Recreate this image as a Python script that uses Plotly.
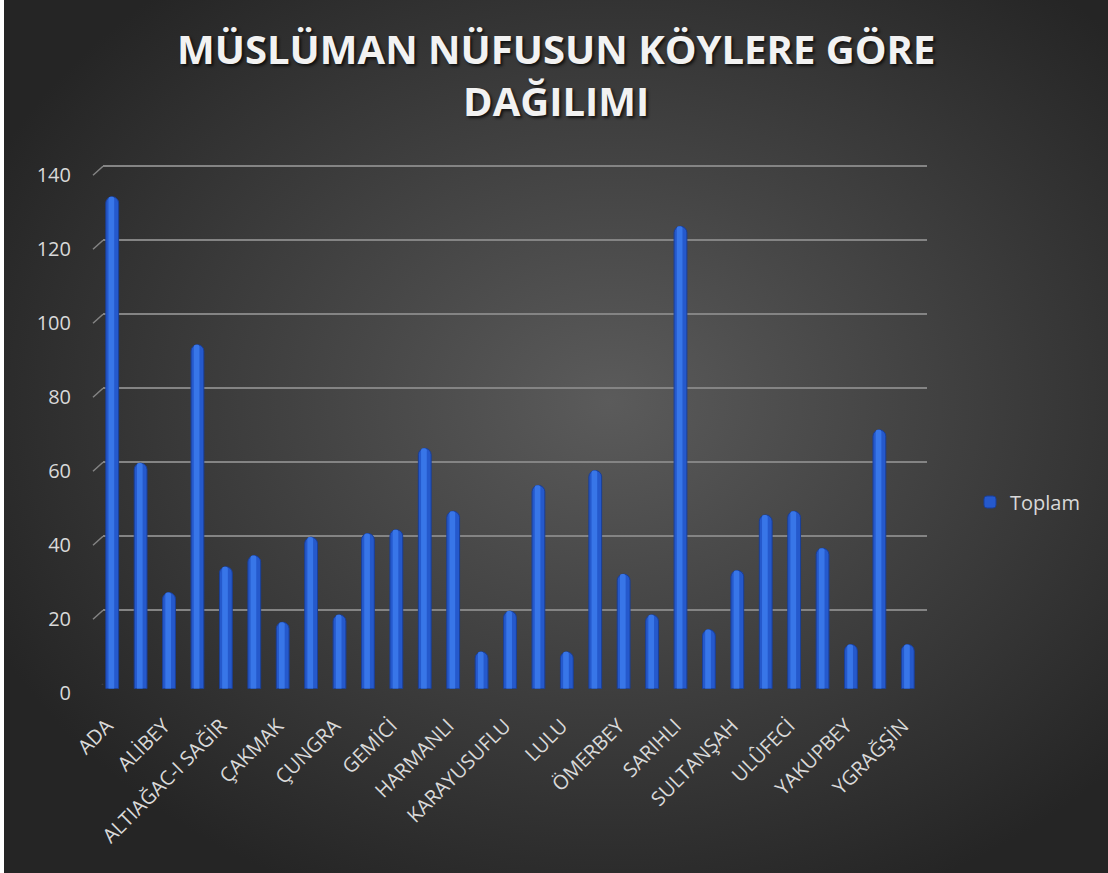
import base64
import plotly.graph_objects as go

# villages (only every other one is labelled on the axis)
villages = [
    "ADA", "AKSU", "ALİBEY", "ALTIAĞAC-I KEBİR", "ALTIAĞAC-I SAĞİR", "CAFERLİ",
    "ÇAKMAK", "ÇAMLI", "ÇUNGRA", "DEMİRCİ", "GEMİCİ", "GÜNEY", "HARMANLI",
    "KARACA", "KARAYUSUFLU", "KIZILCA", "LULU", "OBA", "ÖMERBEY", "SAKARLI",
    "SARIHLI", "SOĞUKSU", "SULTANŞAH", "TEKKE", "ULÛFECİ", "ÜÇPINAR",
    "YAKUPBEY", "YENİCE", "YGRAĞŞİN",
]
toplam = [133, 61, 26, 93, 33, 36, 18, 41, 20, 42, 43, 65, 48, 10, 21, 55, 10,
          59, 31, 20, 125, 16, 32, 47, 48, 38, 12, 70, 12]
shown_labels = villages[::2]
y_ticks = [0, 20, 40, 60, 80, 100, 120, 140]

W, H = 1108, 873
PX_PER_UNIT = 3.7  # 20 units = 74 px
Y_MAX = 141        # a little headroom so the 140 grid line is drawn


def px_x(x):
    return x / W


def px_y(y):
    return 1 - y / H


def domains(dx, dy):
    # back wall: x 103..927, y 0 at 684.3 (scale 3.7 px per unit)
    xd = [px_x(103 + dx), px_x(927 + dx)]
    yd = [px_y(684.3 + dy), px_y(684.3 - Y_MAX * PX_PER_UNIT + dy)]
    return xd, yd


# radial background like the office chart style
svg = (
    "<svg xmlns='http://www.w3.org/2000/svg' width='1108' height='873' "
    "preserveAspectRatio='none'>"
    "<defs><radialGradient id='g' cx='55%' cy='46%' r='62%'>"
    "<stop offset='0' stop-color='#5b5b5b'/>"
    "<stop offset='1' stop-color='#252525'/>"
    "</radialGradient></defs>"
    "<rect width='100%' height='100%' fill='url(#g)'/></svg>"
)
bg = "data:image/svg+xml;base64," + base64.b64encode(svg.encode()).decode()

fig = go.Figure()

# invisible trace on the back-wall axes (grid lines)
fig.add_trace(go.Scatter(x=villages, y=toplam, xaxis="x", yaxis="y",
                         mode="markers", marker_opacity=0, showlegend=False,
                         hoverinfo="skip"))

# cylinders
fig.add_trace(go.Bar(
    x=villages, y=toplam, xaxis="x2", yaxis="y2", name="Toplam",
    width=0.45,
    marker=dict(color="#2559cc", line=dict(color="#1a3f98", width=1),
                cornerradius="50%"),
))
# highlight stripe
fig.add_trace(go.Bar(
    x=villages, y=toplam, xaxis="x2", yaxis="y2", showlegend=False,
    width=0.2, offset=-0.13, hoverinfo="skip",
    marker=dict(color="#3876e8", line=dict(width=0), cornerradius="50%"),
))

# invisible trace on front axes (tick labels)
fig.add_trace(go.Scatter(x=villages, y=toplam, xaxis="x3", yaxis="y3",
                         mode="markers", marker_opacity=0, showlegend=False,
                         hoverinfo="skip"))

yfont = dict(family="Open Sans", size=20, color="#d9d9d9")
xfont = dict(family="Open Sans", size=20, color="#d9d9d9")
xr = [-0.5, len(villages) - 0.5]
yr = [0, Y_MAX]

xd, yd = domains(0, 0)
xd2, yd2 = domains(-5, 4.5)
xd3, yd3 = domains(-10, 9)

shapes = [
    # thin white strip on the left edge
    dict(type="rect", xref="paper", yref="paper", x0=0, x1=px_x(4),
         y0=0, y1=1, fillcolor="white", line=dict(width=0), layer="above"),
]
# little diagonal ticks joining the front labels to the back grid
for v in y_ticks:
    shapes.append(dict(type="line", xref="paper", yref="y",
                       x0=px_x(93), x1=px_x(103),
                       y0=v - 9 / PX_PER_UNIT, y1=v,
                       line=dict(color="#848484", width=1.5)))

fig.update_layout(
    template="none",
    width=W, height=H,
    margin=dict(l=0, r=0, t=0, b=0, pad=0),
    paper_bgcolor="#2b2b2b",
    plot_bgcolor="rgba(0,0,0,0)",
    barmode="overlay",
    images=[dict(source=bg, xref="paper", yref="paper", x=0, y=1,
                 sizex=1, sizey=1, sizing="stretch", layer="below")],
    annotations=[dict(
        text="MÜSLÜMAN NÜFUSUN KÖYLERE GÖRE<br>DAĞILIMI",
        xref="paper", yref="paper", x=px_x(556), y=px_y(74),
        xanchor="center", yanchor="middle", showarrow=False,
        font=dict(family="Open Sans", size=40, color="#f2f2f2",
                  weight="bold", shadow="2px 2px 3px rgba(0,0,0,0.7)"),
    )],
    xaxis=dict(domain=xd, range=xr, anchor="y", showticklabels=False,
               showgrid=False, zeroline=False, showline=False,
               automargin=False, fixedrange=True),
    yaxis=dict(domain=yd, range=yr, anchor="x", tickvals=y_ticks,
               showticklabels=False, showgrid=True, gridcolor="#848484",
               gridwidth=1.5, zeroline=False, showline=False, ticks="",
               automargin=False, fixedrange=True),
    xaxis2=dict(domain=xd2, range=xr, anchor="y2", visible=False,
                automargin=False, fixedrange=True),
    yaxis2=dict(domain=yd2, range=yr, anchor="x2", visible=False,
                automargin=False, fixedrange=True),
    xaxis3=dict(domain=xd3, range=xr, anchor="y3",
                tickmode="array", tickvals=shown_labels, ticktext=shown_labels,
                tickangle=-45, tickfont=xfont, showgrid=False, zeroline=False,
                showline=False, ticks="", ticklabelstandoff=16,
                automargin=False, fixedrange=True),
    yaxis3=dict(domain=yd3, range=yr, anchor="x3",
                tickvals=y_ticks, tickfont=yfont, showgrid=False,
                zeroline=False, showline=False, ticks="",
                ticklabelstandoff=21, automargin=False, fixedrange=True),
    legend=dict(x=px_x(970), xanchor="left", y=px_y(502), yanchor="middle",
                font=dict(family="Open Sans", size=20, color="#d9d9d9"),
                bgcolor="rgba(0,0,0,0)", itemwidth=30),
    shapes=shapes,
    showlegend=True,
)

fig.write_html("out.html", config={"displayModeBar": False},
               post_script="document.body.style.margin='0';")
